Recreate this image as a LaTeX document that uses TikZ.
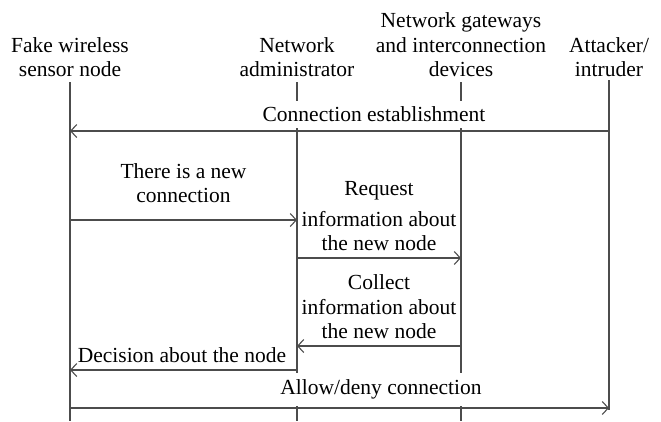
\documentclass[tikz,border=0pt]{standalone}
\usepackage{fontspec}
\setmainfont{Liberation Serif}
\usetikzlibrary{arrows.meta,positioning}

\begin{document}
\begin{tikzpicture}[
  x=1pt, y=-1pt,
  font=\fontsize{21.5}{24.5}\selectfont,
  >={Straight Barb[length=6pt,width=13pt]},
  actor/.style={
    align=center,
    anchor=south,
    inner sep=1pt
  },
  lifeline/.style={draw=black!70, line width=1.1pt},
  msg/.style={->, draw=black!70, line width=1.1pt},
  note/.style={
    align=center,
    anchor=south,
    inner sep=1pt
  },
  cutlabel/.style={
    note,
    fill=white,
    inner xsep=3pt
  }
]
\useasboundingbox (0,0) rectangle (661,421);

% Participants
\node[actor] (sensor) at (70,78) {Fake wireless\\sensor node};
\node[actor] (admin) at (297,78) {Network\\administrator};
\node[actor] (gateway) at (461,78) {Network gateways\\and interconnection\\devices};
\node[actor] (attacker) at (609,78) {Attacker/\\intruder};

% Lifelines
\draw[lifeline] ([yshift=-4pt]sensor.south) -- (sensor |- 0,421);
\draw[lifeline] ([yshift=-4pt]admin.south) -- (admin |- 0,421);
\draw[lifeline] ([yshift=-4pt]gateway.south) -- (gateway |- 0,421);
\draw[lifeline] ([yshift=-2pt]attacker.south) -- (attacker |- 0,410);

% Labels that break the lifelines
\node[cutlabel, minimum height=27pt] (establish) at (374,128) {Connection establishment};
\node[cutlabel, minimum height=33pt] (allow) at (381,406) {Allow/deny connection};

% Messages
\draw[msg] (attacker |- 0,131) -- (sensor |- 0,131);

\node[note] (newconn) at (183.5,204) {There is a new\\connection};
\draw[msg] (sensor |- 0,220) -- (admin |- 0,220);

\node[note] (request) at (379,252) {Request\\[6pt]information about\\the new node};
\draw[msg] (admin |- 0,258) -- (gateway |- 0,258);

\node[note] (collect) at (379,340) {Collect\\information about\\the new node};
\draw[msg] (gateway |- 0,346) -- (admin |- 0,346);

\node[note] (decision) at (182,364) {Decision about the node};
\draw[msg] (admin |- 0,370) -- (sensor |- 0,370);

\draw[msg] (sensor |- 0,408) -- (attacker |- 0,408);

\end{tikzpicture}
\end{document}
